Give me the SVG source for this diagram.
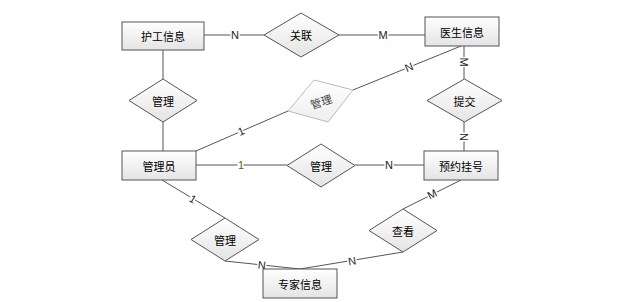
<svg xmlns="http://www.w3.org/2000/svg" width="623" height="302" viewBox="0 0 623 302">
<defs>
<linearGradient id="g" x1="0" y1="0" x2="0" y2="1">
<stop offset="0" stop-color="#ffffff"/>
<stop offset="1" stop-color="#e4e4e4"/>
</linearGradient>
<linearGradient id="g2" x1="0" y1="0" x2="0" y2="1">
<stop offset="0" stop-color="#ffffff"/>
<stop offset="1" stop-color="#eeeeee"/>
</linearGradient>
<style>
.ent{fill:url(#g);stroke:#555;stroke-width:1}
.rel{fill:url(#g);stroke:#555;stroke-width:1}
.relg{fill:url(#g2);stroke:#bbb;stroke-width:1}
.t{font-family:"Noto Sans CJK SC","Microsoft YaHei",sans-serif;font-size:11px;fill:#000;text-anchor:middle;dominant-baseline:central}
.tg{font-family:"Noto Sans CJK SC",sans-serif;font-size:11px;fill:#444;text-anchor:middle;dominant-baseline:central}
.ln{stroke:#555;stroke-width:1;fill:none}
.lb{font-family:"Liberation Sans",Arial,sans-serif;font-size:11px;fill:#222;text-anchor:middle;dominant-baseline:central;paint-order:stroke;stroke:#fff;stroke-width:3px}
</style>
</defs>
<g id="connectors">
<line class="ln" x1="204" y1="35" x2="264" y2="35"/>
<line class="ln" x1="339" y1="35" x2="425" y2="35"/>
<line class="ln" x1="163" y1="50" x2="163" y2="79"/>
<line class="ln" x1="163" y1="122" x2="163" y2="151"/>
<line class="ln" x1="196" y1="151" x2="288" y2="111"/>
<line class="ln" x1="353" y1="90" x2="461" y2="46"/>
<line class="ln" x1="464" y1="46" x2="464" y2="79"/>
<line class="ln" x1="464" y1="122" x2="464" y2="151"/>
<line class="ln" x1="196" y1="165" x2="287" y2="165"/>
<line class="ln" x1="355" y1="165" x2="424" y2="165"/>
<line class="ln" x1="461" y1="180" x2="403" y2="209"/>
<polyline class="ln" points="403,252 300,269"/>
<line class="ln" x1="162" y1="180" x2="225" y2="218"/>
<polyline class="ln" points="225,261 300,269"/>
<text class="lb" x="235" y="35">N</text>
<text class="lb" x="383" y="35">M</text>
<text class="lb" x="241" y="131" transform="rotate(-23 241 131)">1</text>
<text class="lb" x="409" y="67" transform="rotate(-22 409 67)">N</text>
<text class="lb" x="464" y="62" transform="rotate(90 464 62)">M</text>
<text class="lb" x="464" y="137" transform="rotate(90 464 137)">N</text>
<text class="lb" x="241" y="165" style="fill:#6b5a00">1</text>
<text class="lb" x="389" y="165">N</text>
<text class="lb" x="432" y="194" transform="rotate(-27 432 194)">M</text>
<text class="lb" x="352" y="261" transform="rotate(-9 352 261)">N</text>
<text class="lb" x="193" y="199" transform="rotate(31 193 199)">1</text>
<text class="lb" x="262" y="265" transform="rotate(6 262 265)">N</text>
</g>
<g id="e-hugong"><rect class="ent" x="122" y="22" width="82" height="28"/><text class="t" x="163" y="36">护工信息</text></g>
<g id="e-yisheng"><rect class="ent" x="425" y="17" width="74" height="29"/><text class="t" x="462" y="31.5">医生信息</text></g>
<g id="e-admin"><rect class="ent" x="122" y="151" width="74" height="29"/><text class="t" x="159" y="165.5">管理员</text></g>
<g id="e-yuyue"><rect class="ent" x="424" y="151" width="74" height="29"/><text class="t" x="461" y="165.5">预约挂号</text></g>
<g id="e-zhuanjia"><rect class="ent" x="263" y="269" width="74" height="29"/><text class="t" x="300" y="283.5">专家信息</text></g>
<g id="r-guanlian"><polygon class="rel" points="301,13 339,35 301,57 264,35"/><text class="t" x="301" y="35">关联</text></g>
<g id="r-guanli1"><polygon class="rel" points="163,79 197,100.5 163,122 129,100.5"/><text class="t" x="163" y="100.5">管理</text></g>
<g id="r-guanli-gray"><polygon class="relg" points="314,80 353,90 328,122 288,111"/><text class="tg" x="321" y="101" transform="rotate(-18 321 101)">管理</text></g>
<g id="r-tijiao"><polygon class="rel" points="464.5,79 502,100.5 464.5,122 427,100.5"/><text class="t" x="464.5" y="100.5">提交</text></g>
<g id="r-guanli2"><polygon class="rel" points="321,144 355,165.5 321,187 287,165.5"/><text class="t" x="321" y="165.5">管理</text></g>
<g id="r-guanli3"><polygon class="rel" points="225,218 259,239.5 225,261 191,239.5"/><text class="t" x="225" y="239.5">管理</text></g>
<g id="r-chakan"><polygon class="rel" points="403,209 437,230.5 403,252 369,230.5"/><text class="t" x="403" y="230.5">查看</text></g>
</svg>
